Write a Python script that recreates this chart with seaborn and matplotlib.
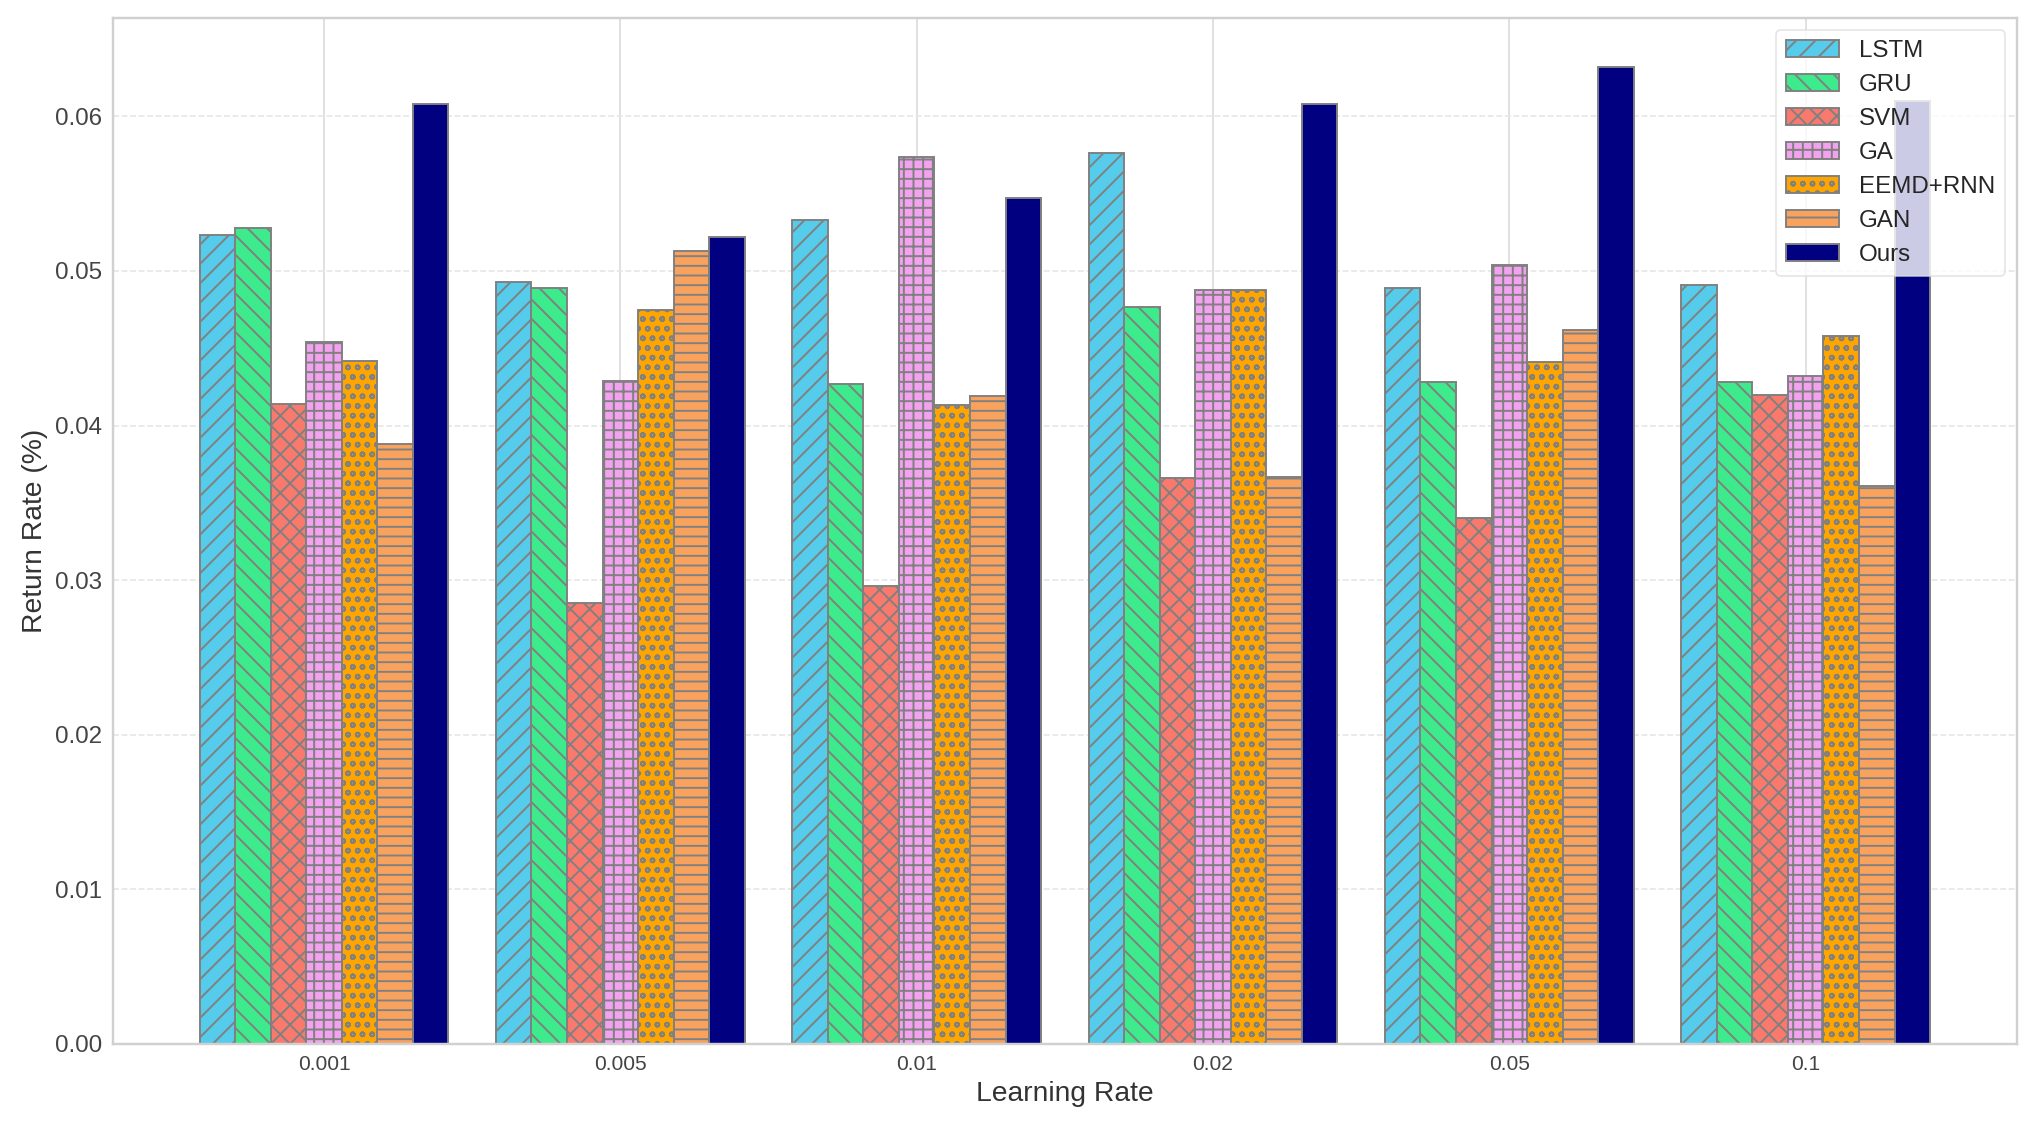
import numpy as np
import pandas as pd
import matplotlib
matplotlib.use("Agg")
import matplotlib.pyplot as plt
import seaborn as sns

learning_rates = ["0.001", "0.005", "0.01", "0.02", "0.05", "0.1"]
models = ["LSTM", "GRU", "SVM", "GA", "EEMD+RNN", "GAN", "Ours"]

lstm = [0.0523, 0.0493, 0.0533, 0.0576, 0.0489, 0.0491]
gru = [0.0528, 0.0489, 0.0427, 0.0477, 0.0428, 0.0428]
svm = [0.0414, 0.0285, 0.0296, 0.0366, 0.0340, 0.0420]
ga = [0.0454, 0.0429, 0.0574, 0.0488, 0.0504, 0.0432]
eemd_rnn = [0.0442, 0.0475, 0.0413, 0.0488, 0.0441, 0.0458]
gan = [0.0388, 0.0513, 0.0419, 0.0367, 0.0462, 0.0361]
ours = [0.0608, 0.0522, 0.0547, 0.0608, 0.0632, 0.0610]

colors = ["#55CCEB", "#3DEB8C", "#F97A6C", "#F2A2EE", "#FFA500", "#F9A25E", "#000080"]
hatches = ["//", "\\\\", "xx", "++", "oo", "--", ""]

series = [lstm, gru, svm, ga, eemd_rnn, gan, ours]
df = pd.DataFrame({
    "Learning Rate": np.tile(learning_rates, len(models)),
    "Model": np.repeat(models, len(learning_rates)),
    "Return Rate": np.concatenate(series),
})

DPI = 116

sns.set_style("whitegrid")
plt.rcParams["font.family"] = ["Liberation Sans", "DejaVu Sans"]
plt.rcParams["hatch.color"] = "gray"
plt.rcParams["hatch.linewidth"] = 1.2

fig, ax = plt.subplots(figsize=(2037 / DPI, 1128 / DPI), dpi=DPI)
fig.subplots_adjust(left=0.0555, right=0.990, top=0.984, bottom=0.0745)

sns.barplot(data=df, x="Learning Rate", y="Return Rate", hue="Model",
            order=learning_rates, hue_order=models, palette=colors,
            width=0.84, edgecolor="gray", linewidth=1.2, saturation=1,
            legend=False, ax=ax)

# hatch per model
for cont, h in zip(ax.containers, hatches):
    for bar in cont:
        bar.set_hatch(h)

ax.legend(ax.containers, models, loc="upper right", fontsize=15,
          frameon=True, framealpha=0.8, edgecolor="#dddddd",
          handlelength=2.2)

ymax = max(max(s) for s in series)
ax.set_ylim(0, ymax * 1.05)
ax.set_xlim(-0.712, len(learning_rates) - 1 + 0.712)

ax.set_xlabel("Learning Rate", fontsize=17.5, color="#333333")
ax.set_ylabel("Return Rate (%)", fontsize=17.5, color="#333333")
ax.tick_params(axis="x", labelsize=13, colors="#444444")
ax.tick_params(axis="y", labelsize=15, colors="#444444")

ax.grid(axis="x", color="#e0e0e0", linewidth=1.2, linestyle="-")
ax.grid(axis="y", color="#e6e6e6", linewidth=1.0, linestyle="--")
ax.set_axisbelow(True)
for sp in ax.spines.values():
    sp.set_color("#d0d0d0")
    sp.set_linewidth(1.5)

fig.savefig("out.png", dpi=DPI)
